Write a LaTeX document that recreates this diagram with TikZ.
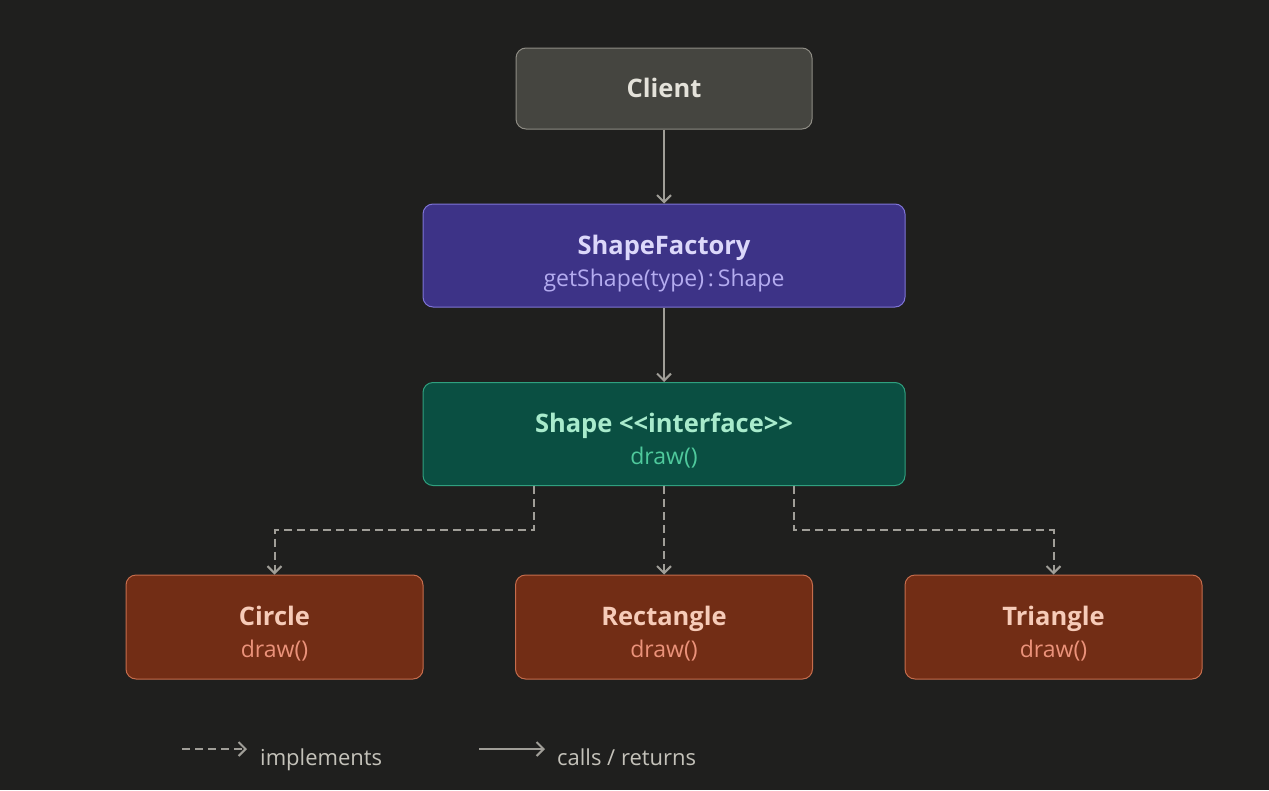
\documentclass[tikz,border=0pt]{standalone}
\usepackage{fontspec}
\setmainfont{Open Sans}
\usetikzlibrary{arrows.meta}
\definecolor{bg}{HTML}{1F1F1E}
\definecolor{linec}{HTML}{A09E98}
\definecolor{clfill}{HTML}{454540}
\definecolor{cldraw}{HTML}{8E8C84}
\definecolor{cltext}{HTML}{E4E2DA}
\definecolor{sffill}{HTML}{3D3387}
\definecolor{sfdraw}{HTML}{7F74D6}
\definecolor{sftitle}{HTML}{DCD8FA}
\definecolor{sfsub}{HTML}{B4ACF0}
\definecolor{shfill}{HTML}{0A4F42}
\definecolor{shdraw}{HTML}{2FA07F}
\definecolor{shtitle}{HTML}{A8EBCC}
\definecolor{shsub}{HTML}{4FC99C}
\definecolor{cofill}{HTML}{722D15}
\definecolor{codraw}{HTML}{C56C4C}
\definecolor{cotitle}{HTML}{F6CBB8}
\definecolor{cosub}{HTML}{EB927A}
\definecolor{legtext}{HTML}{C4C2BA}
\tikzset{
  box/.style={rounded corners=10pt, line width=1pt, inner sep=0pt, minimum width=296pt, minimum height=81pt},
  wbox/.style={box, minimum width=482pt, minimum height=103pt},
  cbox/.style={box, minimum width=297pt, minimum height=104pt},
  ttl/.style={font=\fontsize{25.5}{30}\selectfont\bfseries, inner sep=0pt, anchor=base},
  sub/.style={font=\fontsize{23}{27}\selectfont, inner sep=0pt, anchor=base},
  conn/.style={draw=linec, line width=2pt, -{Straight Barb[length=7pt,width=14pt,line width=2pt]}},
  impl/.style={conn, dash pattern=on 8pt off 5pt},
  leg/.style={font=\fontsize{22}{26}\selectfont, text=legtext, inner sep=0pt, anchor=base west}
}
\begin{document}
\begin{tikzpicture}[x=1pt,y=-1pt]
\fill[bg] (0,0) rectangle (1269,790);
\useasboundingbox (0,0) rectangle (1269,790);
% boxes
\node[box, fill=clfill, draw=cldraw] (client) at (664,88.5) {};
\node[ttl, text=cltext] (clientt) at (664,97.5) {Client};
\node[wbox, fill=sffill, draw=sfdraw] (factory) at (664,255.5) {};
\node[ttl, text=sftitle] (factoryt) at (664,254) {ShapeFactory};
\node[sub, text=sfsub] (factorys) at (664,286) {getShape(type)\,:\,Shape};
\node[wbox, fill=shfill, draw=shdraw] (shape) at (664,434) {};
\node[ttl, text=shtitle] (shapet) at (664,432) {Shape <{}<interface>{}>};
\node[sub, text=shsub] (shapes) at (664,464) {draw()};
\node[cbox, fill=cofill, draw=codraw] (circle) at (274.5,627) {};
\node[ttl, text=cotitle] (circlet) at (274.5,625) {Circle};
\node[sub, text=cosub] (circles) at (274.5,657) {draw()};
\node[cbox, fill=cofill, draw=codraw] (rect) at (664,627) {};
\node[ttl, text=cotitle] (rectt) at (664,625) {Rectangle};
\node[sub, text=cosub] (rects) at (664,657) {draw()};
\node[cbox, fill=cofill, draw=codraw] (tri) at (1053.5,627) {};
\node[ttl, text=cotitle] (trit) at (1053.5,625) {Triangle};
\node[sub, text=cosub] (tris) at (1053.5,657) {draw()};
% connectors
\draw[conn] (client.south) -- (factory.north);
\draw[conn] (factory.south) -- (shape.north);
\draw[impl] (shape.south -| 534,0) |- (274.5,530) -- (circle.north);
\draw[impl] (shape.south) -- (rect.north);
\draw[impl] (shape.south -| 794,0) |- (1053.5,530) -- (tri.north);
% legend
\coordinate (l1a) at (182,749);
\coordinate (l1b) at (247,749);
\coordinate (l2a) at (479,749);
\coordinate (l2b) at (545,749);
\draw[impl] (l1a) -- (l1b);
\draw[conn] (l2a) -- (l2b);
\node[leg] (limpl) at (260,765) {implements};
\node[leg] (lcalls) at (557,765) {calls / returns};
\end{tikzpicture}
\end{document}
